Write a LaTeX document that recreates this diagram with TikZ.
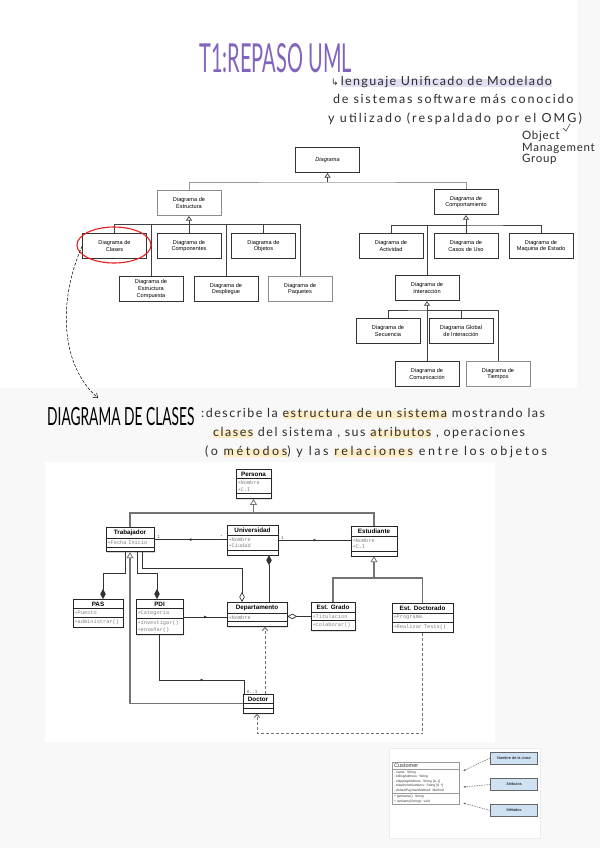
\documentclass[tikz,border=0pt]{standalone}
\usepackage{fontspec}
\usepackage{graphicx}
\setmainfont{Liberation Sans}
\setsansfont{Liberation Sans}
\setmonofont{Liberation Mono}
\newfontfamily\hand{Lato}
\newfontfamily\symb{DejaVu Sans}
\usepackage{tikz}
\usetikzlibrary{arrows.meta, positioning, shapes.geometric, shapes.multipart, calc, decorations.markings, shadows}
\definecolor{pagebg}{RGB}{248, 248, 248}
\definecolor{titlepurple}{RGB}{128, 100, 190}
\definecolor{hlyellow}{RGB}{253, 236, 196}
\definecolor{hlpurple}{RGB}{226, 223, 244}
\definecolor{ink}{RGB}{45, 45, 45}
\definecolor{tagblue}{RGB}{207, 226, 243}
\definecolor{circlered}{RGB}{232, 30, 30}

\newsavebox\marcabox
\newcommand\marca[2][hlyellow]{\sbox\marcabox{#2}\rlap{\color{#1}\rule[-1.5pt]{\wd\marcabox}{8pt}}\usebox\marcabox}
\newcommand\cls[1]{{\centering\sffamily\bfseries\fontsize{6.3}{7.3}\selectfont\color{black}#1\par}}

\begin{document}
\begin{tikzpicture}[x=1pt, y=-1pt,
    dbox/.style={rectangle, draw=black!80, line width=0.6pt, fill=white, minimum width=64pt, minimum height=25.5pt, inner sep=1pt, align=center, font=\sffamily\fontsize{5.6}{6.8}\selectfont},
    dboxg/.style={dbox, draw=black!45},
    tline/.style={draw=black!75, line width=0.7pt},
    tlineg/.style={draw=black!40, line width=0.8pt},
    tgen/.style={tline, -{Triangle[open, length=4.5pt, width=6pt]}},
    notes/.style={font=\hand\fontsize{12.5}{15}\selectfont\addfontfeature{LetterSpace=#1}, text=ink, inner sep=0pt, anchor=base west},
    notes/.default=0,
    uml/.style={rectangle split, rectangle split parts=3, rectangle split ignore empty parts=false, rectangle split empty part height=1.5pt, draw=black!85, line width=0.7pt, fill=white, text width=#1, inner xsep=1.5pt, inner ysep=2.1pt, align=left, anchor=north, font=\ttfamily\fontsize{5.3}{6.3}\selectfont, text=black!50, drop shadow={shadow xshift=1pt, shadow yshift=-1pt, fill=black!35}},
    mult/.style={font=\ttfamily\fontsize{4.5}{5}\selectfont, text=black!60, inner sep=0.6pt},
    assoc/.style={draw=black!80, line width=0.7pt},
    navL/.style={postaction={decorate}, decoration={markings, mark=at position #1 with {\arrowreversed{Latex[length=3pt, width=3pt]}}}},
    navR/.style={postaction={decorate}, decoration={markings, mark=at position #1 with {\arrow{Latex[length=3pt, width=3pt]}}}},
    cline/.style={draw=black!55, line width=1.1pt},
    cgen/.style={cline, -{Triangle[open, fill=white, length=6pt, width=7pt, line width=0.8pt]}},
    comp/.style={assoc, {Diamond[length=10pt, width=5.5pt]}-},
    aggr/.style={assoc, -{Diamond[fill=white, length=10pt, width=5.5pt]}},
    dep/.style={draw=black!55, line width=1pt, dash pattern=on 3pt off 2pt, -{Straight Barb[length=3pt, width=5.5pt]}},
    custbox/.style={rectangle split, rectangle split parts=3, draw=black!40, line width=0.4pt, fill=white, text width=64pt, inner xsep=1.5pt, inner ysep=1.3pt, align=left, anchor=north, font=\sffamily\fontsize{3.3}{4.6}\selectfont, text=black!80},
    tagbox/.style={rectangle, draw=black!60, line width=0.5pt, fill=tagblue, minimum width=47pt, minimum height=12pt, inner sep=0.5pt, font=\sffamily\fontsize{3.9}{4.5}\selectfont},
    tagarrow/.style={draw=black!60, line width=0.5pt, dash pattern=on 1.5pt off 1pt, -{Latex[length=2.5pt, width=2pt]}}
]

% Page
\useasboundingbox (0,0) rectangle (600,848);
\fill[pagebg] (0,0) rectangle (600,848);
\fill[white] (0,0) rectangle (577,388);
\fill[white] (45,462) rectangle (495,742);

% Heading notes
\node[anchor=base west, inner sep=0pt, text=titlepurple, font=\hand\fontsize{40}{40}\selectfont] (titulo) at (199,73) {\scalebox{0.5}[1]{T1:REPASO UML}};
\node[notes=11] (uml1) at (331,86) {{\symb\fontsize{9}{10}\selectfont ↳}\,\marca[hlpurple]{lenguaje Unificado de Modelado}};
\node[notes=14] (uml2) at (333,104) {de sistemas software más conocido};
\node[notes=17] (uml3) at (328,122) {y utilizado (respaldado por el OMG)};
\node[notes=6, font=\hand\fontsize{11.5}{11.5}\selectfont\addfontfeature{LetterSpace=6}, align=left, anchor=north west] (omg) at (522,131) {Object\\Management\\Group};
\draw[ink, line width=0.5pt] (570,124) -- (566,131) -- (563,128);

% Diagram tree
\node[dbox] (dgm) at (327.5,160) {\itshape Diagrama};
\node[dboxg] (est) at (189,203) {Diagrama de\\Estructura};
\node[dbox] (comp) at (466,202) {\itshape Diagrama de\\Comportamiento};
\node[dbox] (clases) at (114.5,246) {Diagrama de\\Clases};
\node[dbox] (compon) at (189,246) {Diagrama de\\Componentes};
\node[dbox] (objetos) at (263.5,246) {Diagrama de\\Objetos};
\node[dbox] (estcomp) at (151,289) {Diagrama de\\Estructura\\Compuesta};
\node[dbox] (despl) at (226,289) {Diagrama de\\Despliegue};
\node[dboxg] (paquetes) at (300,289) {Diagrama de\\Paquetes};
\node[dbox] (activ) at (391,246) {Diagrama de\\Actividad};
\node[dbox] (casos) at (466,246) {Diagrama de\\Casos de Uso};
\node[dbox] (maquina) at (541,246) {Diagrama de\\Maquina de Estado};
\node[dbox] (interac) at (427,288) {Diagrama de\\Interacción};
\node[dbox] (secuen) at (388,331) {Diagrama de\\Secuencia};
\node[dbox] (global) at (461,331) {Diagrama Global\\de Interacción};
\node[dbox] (comunic) at (427,374) {Diagrama de\\Comunicación};
\node[dboxg] (tiempos) at (498,374) {Diagrama de\\Tiempos};

\coordinate (dgmbus) at (327.5,182);
\coordinate (estbus) at (189,224);
\coordinate (compbus) at (466,225);
\coordinate (intbus) at (427,310);
\draw[tlineg] (est.north) |- (dgmbus) -| (comp.north);
\draw[tgen] (dgmbus) -- (dgm.south);
\draw[tline] (clases.north) |- (estbus) -| (paquetes.north);
\draw[tline] (estcomp.north) |- (estbus);
\draw[tline] (despl.north) |- (estbus);
\draw[tline] (objetos.north) |- (estbus);
\draw[tline] (compon.north) -- (estbus);
\draw[tgen] (estbus) -- (est.south);
\draw[tline] (activ.north) |- (compbus) -| (maquina.north);
\draw[tline] (interac.north) |- (compbus);
\draw[tline] (casos.north) -- (compbus);
\draw[tgen] (compbus) -- (comp.south);
\draw[tline] (secuen.north) |- (intbus) -| (tiempos.north);
\draw[tline] (global.north) |- (intbus);
\draw[tline] (comunic.north) -- (intbus);
\draw[tgen] (intbus) -- (interac.south);

% Marked box and pointer
\node[ellipse, draw=circlered, line width=1.1pt, minimum width=74pt, minimum height=36pt] (marcaclases) at (114,245) {};
\coordinate (flecha) at (98,398);
\draw[black, line width=0.5pt, dash pattern=on 3pt off 1.5pt, -{Straight Barb[length=4pt, width=6pt]}] (clases.west) .. controls (58,300) and (60,365) .. (flecha);

% Class diagram notes
\node[anchor=base west, inner sep=0pt, text=black, font=\hand\fontsize{25}{25}\selectfont] (clasestit) at (47,425) {\scalebox{0.55}[1]{DIAGRAMA DE CLASES}};
\node[notes=12] (desc1) at (201,417) {:describe la \marca{estructura de un sistema} mostrando las};
\node[notes=12] (desc2) at (213,436) {\marca{clases} del sistema , sus \marca{atributos} , operaciones};
\node[notes=21] (desc3) at (205,455) {(o \marca{métodos}) y las \marca{relaciones} entre los objetos};

% Classes
\node[uml=32pt] (persona) at (253.5,469) {\cls{Persona}\nodepart{two}+Nombre\\+C.I\nodepart{three}};
\node[uml=45pt] (trabajador) at (130,527) {\cls{Trabajador}\nodepart{two}+Fecha Inicio\nodepart{three}};
\node[uml=48pt] (universidad) at (252.5,525) {\cls{Universidad}\nodepart{two}+Nombre\\+Ciudad\nodepart{three}};
\node[uml=43pt] (estudiante) at (374,526) {\cls{Estudiante}\nodepart{two}+Nombre\\+C.I\nodepart{three}};
\node[uml=47pt] (pas) at (98,599) {\cls{PAS}\nodepart{two}+Puesto\nodepart{three}+administrar()};
\node[uml=44pt] (pdi) at (159.5,599) {\cls{PDI}\nodepart{two}+Categoria\nodepart{three}+investigar()\\+enseñar()};
\node[uml=57pt] (depto) at (257,602) {\cls{Departamento}\nodepart{two}+Nombre\nodepart{three}};
\node[uml=41pt] (estgrado) at (333,602) {\cls{Est. Grado}\nodepart{two}+Titulacion\nodepart{three}+colaborar()};
\node[uml=58pt] (estdoct) at (422.5,603) {\cls{Est. Doctorado}\nodepart{two}+Programa\nodepart{three}+Realizar Tesis()};
\node[uml=27pt] (doctor) at (258,694) {\cls{Doctor}\nodepart{two}\nodepart{three}};

% Relations
\coordinate (persbus) at (253.5,513);
\draw[cline] (trabajador.north) |- (persbus) -| (estudiante.north);
\draw[cgen] (persbus) -- (persona.south);
\coordinate (estbus2) at (374,578);
\draw[cline] (estgrado.north) |- (estbus2) -| (estdoct.north);
\draw[cgen] (estbus2) -- (estudiante.south);
\draw[cgen] (doctor.west) -| (trabajador.south);

\draw[assoc, navL=0.47] (trabajador.east) -- (trabajador.east -| universidad.west)
    node[mult, pos=0.06, above] (mt1) {1} node[mult, pos=0.93, above] (mu1) {*};
\draw[assoc, navR=0.53] (universidad.east) -- (universidad.east -| estudiante.west)
    node[mult, pos=0.06, above] (mu2) {1};
\draw[assoc, navR=0.55] (pdi.east) -- (pdi.east -| depto.west);
\draw[aggr] (estgrado.west) -- (estgrado.west -| depto.east);

\coordinate (ucomp) at ($(universidad.south)+(16.5,0)$);
\draw[comp] (ucomp) -- (ucomp |- depto.north);
\coordinate (tagg) at ($(trabajador.south)+(12,0)$);
\coordinate (dagg) at ($(depto.north)+(-15,0)$);
\draw[aggr] (tagg) -- ++(0,16) -| (dagg);
\coordinate (tpas) at ($(trabajador.south)+(-5,0)$);
\coordinate (pasc) at ($(pas.north)+(5,0)$);
\draw[comp] (pasc) -- ++(0,-26) -| (tpas);
\coordinate (tpdi) at ($(trabajador.south)+(7,0)$);
\coordinate (pdic) at ($(pdi.north)+(-2.5,0)$);
\draw[comp] (pdic) -- ++(0,-26) -| (tpdi);

\coordinate (docn) at ($(doctor.north)+(-14,0)$);
\draw[assoc, navR=0.62] (pdi.south) -- ++(0,45) -| (docn);
\node[mult, anchor=south west] (m01) at ($(docn)+(2,0)$) {0..1};
\coordinate (docdep) at ($(doctor.north)+(7,0)$);
\draw[dep] (docdep) -- (docdep |- depto.south);
\coordinate (docs) at ($(doctor.south)+(-1,0)$);
\draw[dep] (estdoct.south) -- ++(0,101) -| (docs);

% Customer example
\fill[white, draw=black!8] (389,748) rectangle (540,838);
\node[custbox] (customer) at (426,762) {{\fontsize{5.6}{6.5}\selectfont Customer}\nodepart{two}- name: String\\- billingAddress: String\\- shippingAddress: String [0..1]\\- telephoneNumbers: String [0..*]\\- defaultPaymentMethod: Method\nodepart{three}+ getName(): String\\+ setName(String): void};
\node[tagbox] (tnombre) at (514,758) {Nombre de la clase};
\node[tagbox] (tatrib) at (514,784.5) {Atributos};
\node[tagbox] (tmetod) at (514,810.5) {Métodos};
\coordinate (cnombre) at (463,771);
\coordinate (catrib) at (463,787);
\coordinate (cmetod) at (463,803);
\draw[tagarrow] (tnombre.west) -- (cnombre);
\draw[tagarrow] (tatrib.west) -- (catrib);
\draw[tagarrow] (tmetod.west) -- (cmetod);

\end{tikzpicture}
\end{document}
